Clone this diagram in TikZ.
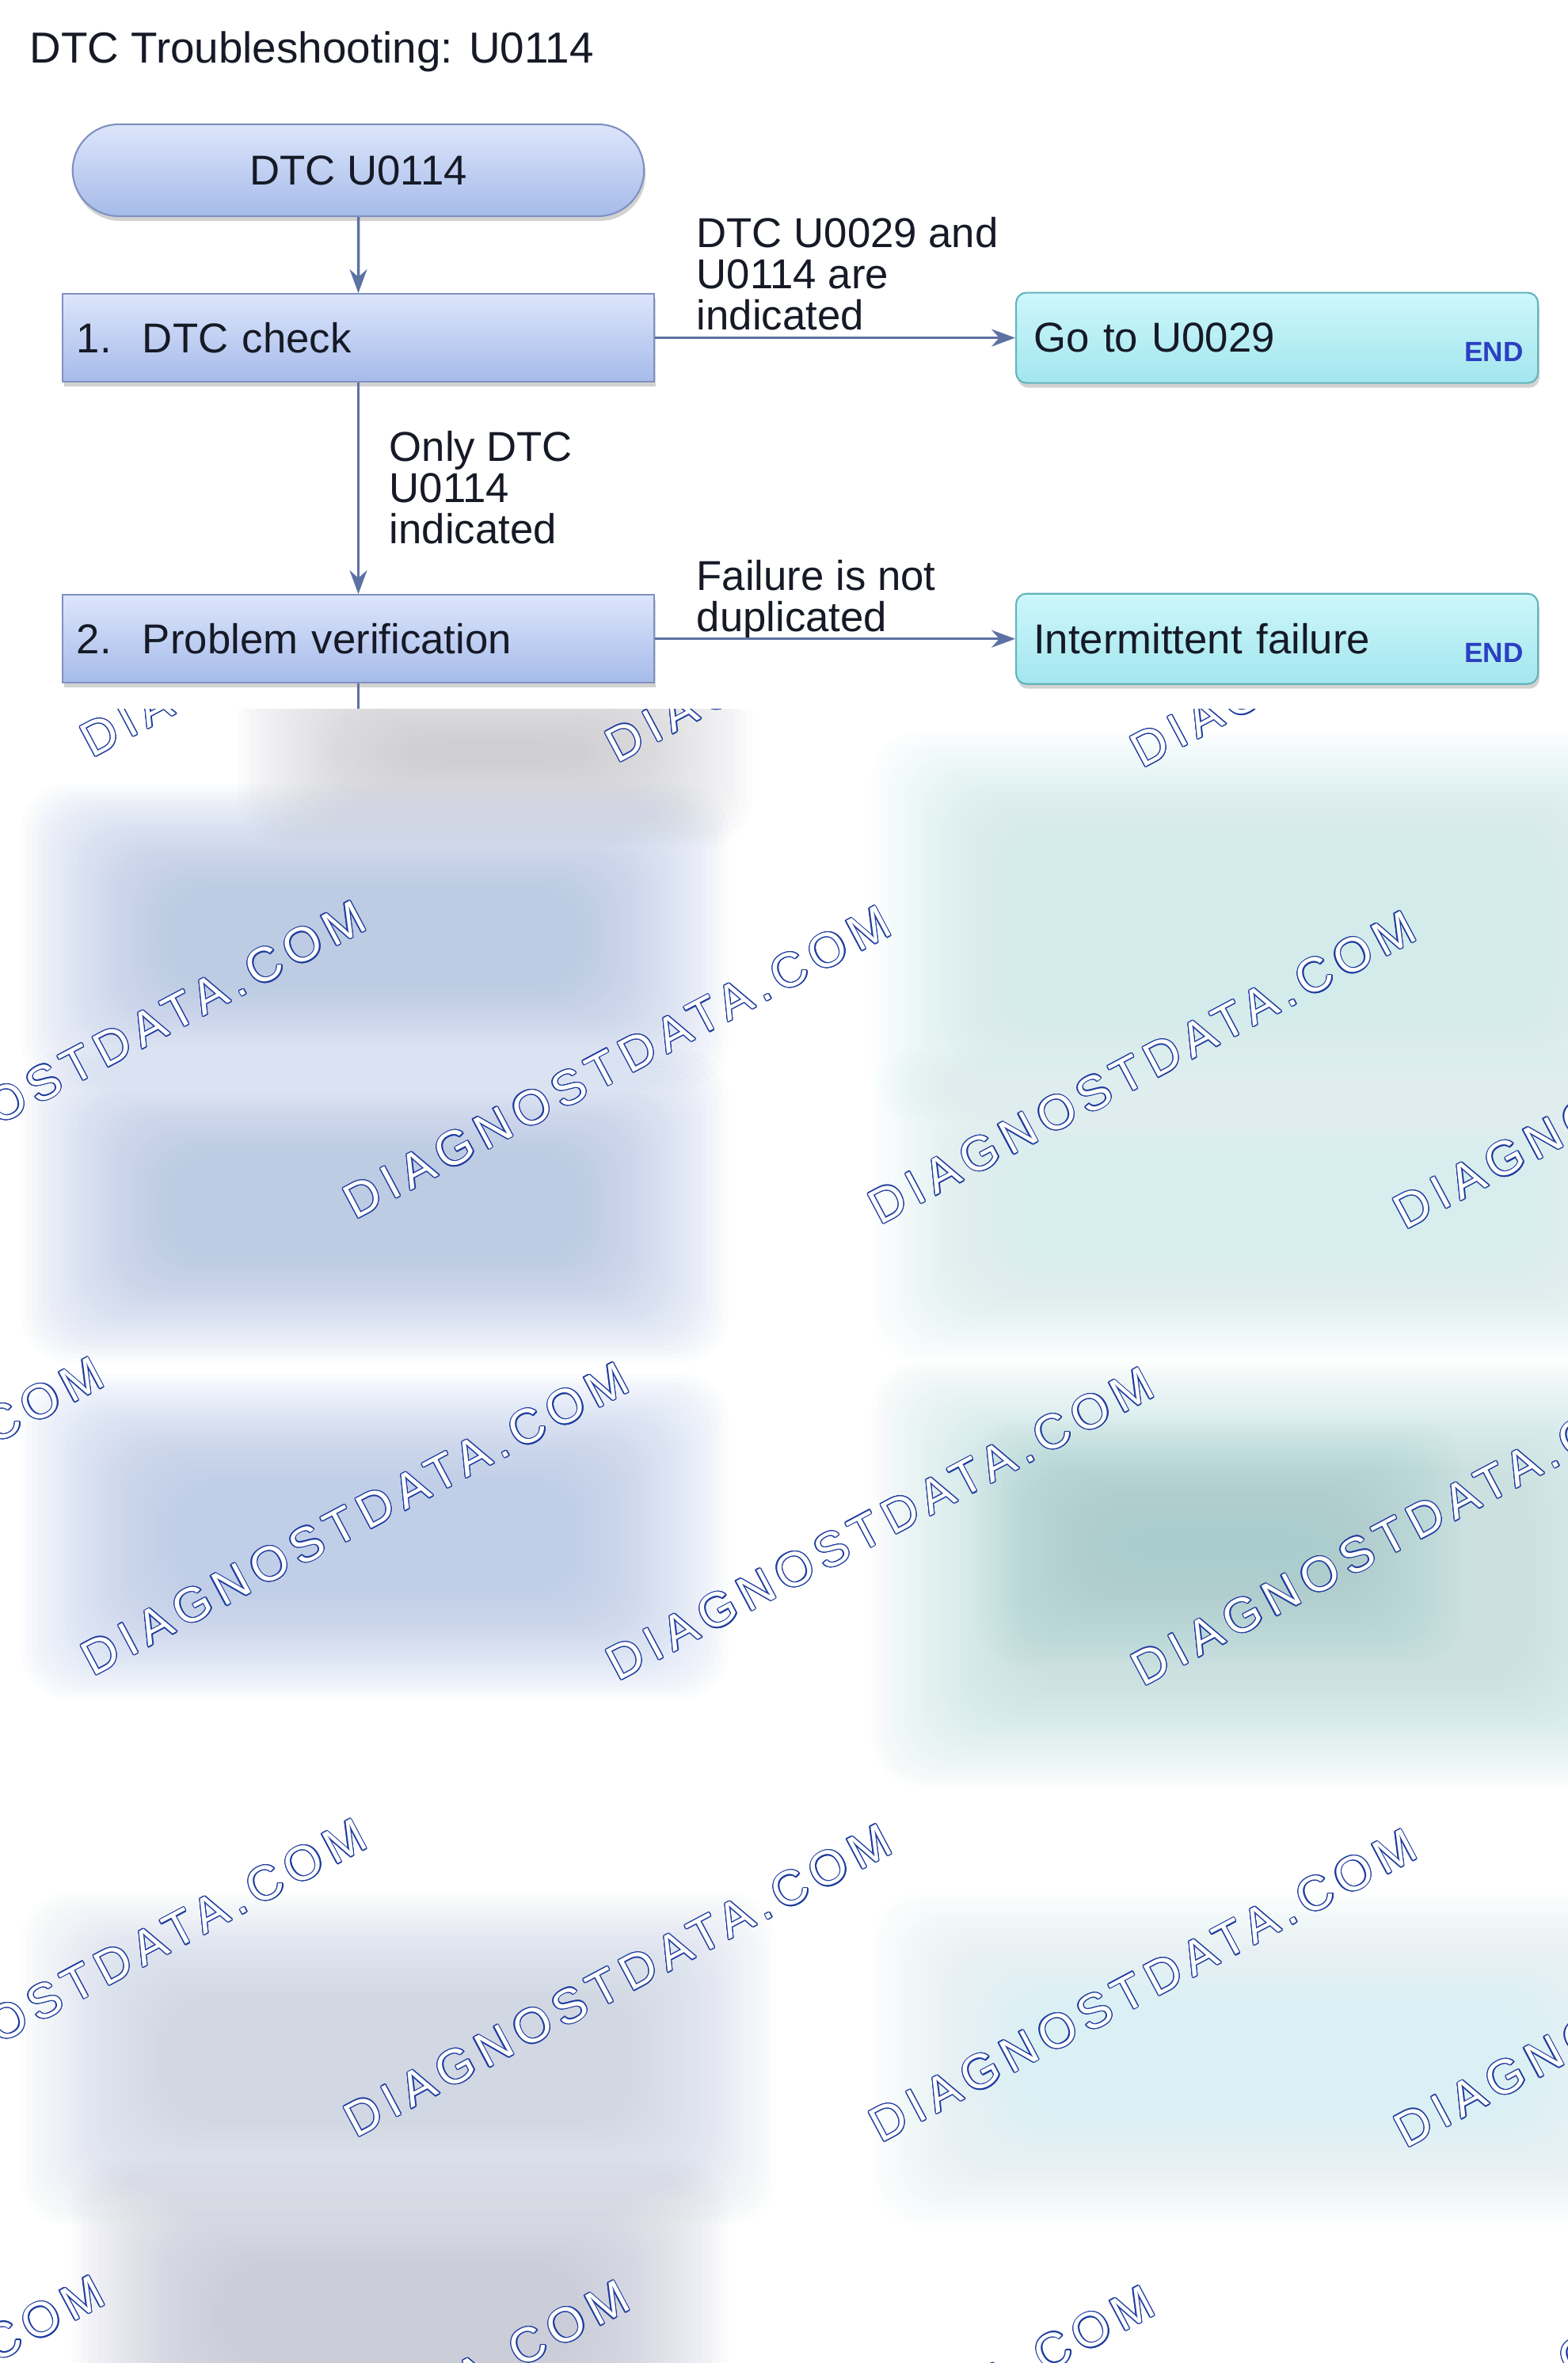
\documentclass[tikz,border=0pt]{standalone}
\usepackage{fontspec}
\setmainfont{Liberation Sans}
\newfontfamily\markfont[LetterSpace=15]{Liberation Sans}
\usepackage[copies]{contour}
\usetikzlibrary{positioning}
\usetikzlibrary{arrows.meta}
\usetikzlibrary{shadows}
\usetikzlibrary{shapes.misc}

\definecolor{txtdark}{HTML}{161A26}
\definecolor{boxline}{HTML}{7F91C0}
\definecolor{boxtop}{HTML}{DCE5FB}
\definecolor{boxbot}{HTML}{A6BBEA}
\definecolor{endline}{HTML}{62B4BC}
\definecolor{endtop}{HTML}{CDF7FB}
\definecolor{endbot}{HTML}{A3E6EE}
\definecolor{flowline}{HTML}{5D72A3}
\definecolor{endblue}{HTML}{2B3FC2}
\definecolor{wmblue}{HTML}{1E3C9E}
\definecolor{blueA}{HTML}{A9BCE3}
\definecolor{blueB}{HTML}{AEC0E8}
\definecolor{blueC}{HTML}{C5CEE3}
\definecolor{greyD}{HTML}{BCBFD0}
\definecolor{greyTop}{HTML}{C2C2C6}
\definecolor{tealA}{HTML}{C8EBEB}
\definecolor{tealB}{HTML}{CEEDEE}
\definecolor{tealC}{HTML}{BEE0E0}
\definecolor{tealDark}{HTML}{A6CDCD}
\definecolor{tealD}{HTML}{D6F0F4}

\newcommand{\bodyfont}{\fontsize{15pt}{14.7pt}\selectfont}
\newcommand{\stepnum}[1]{\makebox[0.83cm][l]{#1}}
% soft blurred patch: x1, ytop, x2, ybottom, colour, xstep, ystep
\newcommand{\softbox}[7]{%
  \foreach \k in {0,...,27}{%
    \fill[#5, opacity=0.04, rounded corners=0.6cm] ({#1+\k*#6},{#2-\k*#7}) rectangle ({#3-\k*#6},{#4+\k*#7});}}
\contourlength{0.35pt}

\begin{document}
\begin{tikzpicture}[
titletext/.style={font=\fontsize{15.6pt}{16pt}\selectfont, text=txtdark, inner sep=0pt},
startnode/.style={rounded rectangle, draw=boxline, line width=0.6pt, top color=boxtop, bottom color=boxbot, minimum width=7.45cm, minimum height=1.16cm, font=\bodyfont, text=txtdark, drop shadow={shadow xshift=0.02cm, shadow yshift=-0.06cm, opacity=0.35}},
stepnode/.style={rectangle, draw=boxline, line width=0.6pt, top color=boxtop, bottom color=boxbot, minimum height=1.11cm, text width=7.11cm, inner xsep=0.18cm, align=left, font=\bodyfont, text=txtdark, drop shadow={shadow xshift=0.02cm, shadow yshift=-0.06cm, opacity=0.35}},
endnode/.style={rectangle, rounded corners=0.13cm, draw=endline, line width=0.6pt, top color=endtop, bottom color=endbot, minimum height=1.14cm, text width=6.15cm, inner xsep=0.22cm, align=left, font=\bodyfont, text=txtdark, drop shadow={shadow xshift=0.02cm, shadow yshift=-0.06cm, opacity=0.35}},
endtag/.style={font=\fontsize{10pt}{10pt}\selectfont\bfseries, text=endblue, inner sep=0pt, anchor=east},
lbl/.style={font=\bodyfont, align=left, inner sep=0pt, anchor=north west, text=txtdark},
flow/.style={draw=flowline, line width=1pt, -{Stealth[length=0.3cm, width=0.22cm]}},
wmark/.style={rotate=28, anchor=base west, inner sep=0pt, text=white, font=\markfont\fontsize{17.4pt}{18pt}\selectfont},
]
\useasboundingbox (0,0) rectangle (19.8,-29.84);
\fill[white] (0,0) rectangle (19.8,-29.84);

%Blurred lower part
\begin{scope}
\clip (0,-8.95) rectangle (19.8,-29.84);
\softbox{3.0}{-8.3}{9.5}{-10.7}{greyTop}{0.08}{0.04}
\softbox{0.26}{-9.9}{9.2}{-13.75}{blueA}{0.07}{0.05}
\softbox{0.26}{-13.25}{9.2}{-17.2}{blueA}{0.07}{0.05}
\softbox{0.26}{-17.35}{9.2}{-21.45}{blueB}{0.07}{0.05}
\softbox{0.26}{-23.9}{9.8}{-28.1}{blueC}{0.07}{0.05}
\softbox{0.9}{-27.25}{9.2}{-31.2}{greyD}{0.07}{0.05}
\softbox{11.0}{-9.25}{21.2}{-14.15}{tealA}{0.07}{0.05}
\softbox{11.0}{-13.25}{21.2}{-17.2}{tealB}{0.07}{0.05}
\softbox{11.0}{-17.2}{21.2}{-22.55}{tealC}{0.07}{0.05}
\softbox{12.3}{-17.95}{18.5}{-21.05}{tealDark}{0.07}{0.05}
\softbox{11.0}{-23.9}{21.2}{-28.1}{tealD}{0.07}{0.05}

%Watermarks
\foreach \i in {-1,...,3}
  \foreach \j in {-3,...,2}
    \node[wmark] (wm\i\j) at ({4.48+3.32*\i+6.63*\j},{-15.41-5.83*\i-0.065*\j}) {\contour{wmblue}{DIAGNOSTDATA.COM}};
\end{scope}

%Nodes
\node[titletext, anchor=base west] (title) at (0.37,-0.79) {DTC Troubleshooting: U0114};
\node[startnode]                   (start) at (4.525,-2.15) {DTC U0114};
\node[stepnode]   (chk)   [below=0.96cm of start] {\stepnum{1.}DTC check};
\node[stepnode]   (ver)   [below=2.67cm of chk]   {\stepnum{2.}Problem verification};
\node[endnode]    (go)    [right=4.55cm of chk]   {Go to U0029};
\node[endnode]    (inter) [right=4.55cm of ver]   {Intermittent failure};
\node[endtag]     (end1)  at ([xshift=-0.19cm, yshift=-0.18cm]go.east)    {END};
\node[endtag]     (end2)  at ([xshift=-0.19cm, yshift=-0.18cm]inter.east) {END};
\coordinate (cut) at (4.525,-8.95);

%Labels
\node[lbl] (lblboth)  at (8.79,-2.74) {DTC U0029 and\\U0114 are\\indicated};
\node[lbl] (lblonly)  at (4.91,-5.44) {Only DTC\\U0114\\indicated};
\node[lbl] (lblnodup) at (8.79,-7.07) {Failure is not\\duplicated};

%Lines
\draw[flow] (start) -- (chk);
\draw[flow] (chk) -- (ver);
\draw[flow] (chk) -- (go);
\draw[flow] (ver) -- (inter);
\draw[draw=flowline, line width=1pt] (ver) -- (cut);
\end{tikzpicture}
\end{document}
